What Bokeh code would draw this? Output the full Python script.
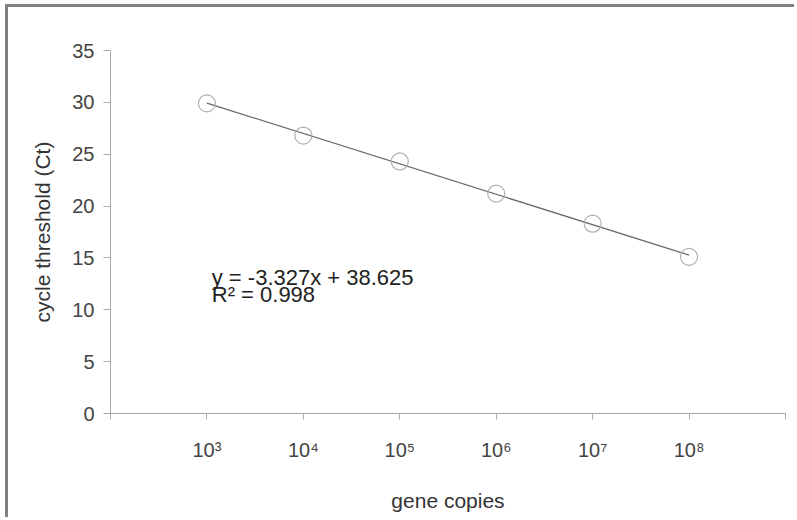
import numpy as np
from bokeh.plotting import figure
from bokeh.models import Range1d, FixedTicker, ColumnDataSource
from bokeh.core.properties import value
from bokeh.embed import file_html
from bokeh.resources import INLINE

# ---- data ----
copies_exponent = [3, 4, 5, 6, 7, 8]
ct_values = [29.9, 26.8, 24.3, 21.2, 18.3, 15.1]
x_tick_labels = ["10³", "10⁴", "10⁵", "10⁶", "10⁷", "10⁸"]
y_ticks = [0, 5, 10, 15, 20, 25, 30, 35]
equation_lines = ["y = -3.327x + 38.625", "R² = 0.998"]
x_title = "gene copies"
y_title = "cycle threshold (Ct)"

FONT = "Liberation Sans"

# trend line (least squares fit of the points)
slope, intercept = np.polyfit(copies_exponent, ct_values, 1)
trend_x = [copies_exponent[0], copies_exponent[-1]]
trend_y = [slope * v + intercept for v in trend_x]

W, H = 789, 513
p = figure(width=W, height=H, output_backend="svg", toolbar_location=None,
           x_range=Range1d(2, 9), y_range=Range1d(0, 35),
           min_border_left=102, min_border_right=12,
           min_border_top=43, min_border_bottom=107)
p.styles = {"border-left": "3px solid #808080", "border-top": "3px solid #808080",
            "margin-left": "5px", "margin-top": "4px"}
p.outline_line_color = None
p.background_fill_color = "white"
p.border_fill_color = "white"
p.xgrid.visible = False
p.ygrid.visible = False

# axes
xa = p.xaxis[0]
xa.ticker = FixedTicker(ticks=[2] + copies_exponent + [9])
overrides = {2: "", 9: ""}
for e, lab in zip(copies_exponent, x_tick_labels):
    overrides[e] = lab
xa.major_label_overrides = overrides
xa.axis_label = x_title
xa.axis_label_text_font = FONT
xa.axis_label_text_font_size = "21px"
xa.axis_label_text_font_style = "normal"
xa.axis_label_text_color = "#333333"
xa.axis_label_standoff = 25
xa.major_label_text_font = FONT
xa.major_label_text_font_size = "20px"
xa.major_label_text_color = "#444444"
xa.major_label_standoff = 19
xa.axis_line_color = "#a8a8a8"
xa.major_tick_line_color = "#a8a8a8"
xa.major_tick_in = 0
xa.major_tick_out = 6
xa.minor_tick_line_color = None

ya = p.yaxis[0]
ya.ticker = FixedTicker(ticks=y_ticks)
ya.axis_label = y_title
ya.axis_label_text_font = FONT
ya.axis_label_text_font_size = "21px"
ya.axis_label_text_font_style = "normal"
ya.axis_label_text_color = "#333333"
ya.axis_label_standoff = 15
ya.major_label_text_font = FONT
ya.major_label_text_font_size = "20px"
ya.major_label_text_color = "#444444"
ya.major_label_standoff = 9
ya.axis_line_color = "#a8a8a8"
ya.major_tick_line_color = "#a8a8a8"
ya.major_tick_in = 0
ya.major_tick_out = 7
ya.minor_tick_line_color = None

# trend line
p.line(trend_x, trend_y, line_color="#6a6a6a", line_width=1.3)

# points
src = ColumnDataSource(dict(x=copies_exponent, y=ct_values))
p.scatter("x", "y", source=src, marker="circle", size=17,
          fill_color=None, line_color="#b0b0b0", line_width=1.2)

# equation
p.text(x=[3.05, 3.05], y=[13.13, 11.49], text=equation_lines,
       text_font=value(FONT), text_font_size="22px", text_color="#222222",
       text_baseline="alphabetic", text_align="left")

open("out.html", "w").write(file_html(p, INLINE))
